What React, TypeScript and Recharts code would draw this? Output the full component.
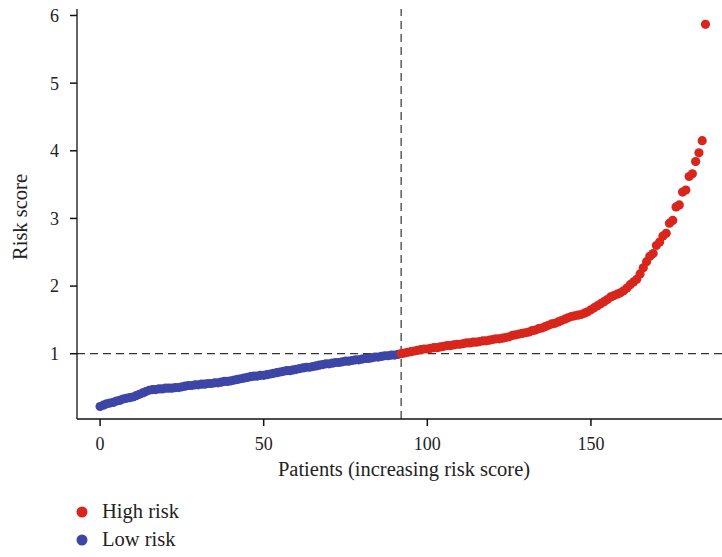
import { ScatterChart, Scatter, XAxis, YAxis, ReferenceLine } from "recharts";

// risk scores, sorted
const lowRisk = [
  0.22, 0.24, 0.26, 0.27, 0.28, 0.3, 0.31, 0.33, 0.34, 0.35, 0.36, 0.38, 0.4,
  0.42, 0.44, 0.46, 0.47, 0.47, 0.48, 0.48, 0.49, 0.49, 0.49, 0.5, 0.5, 0.51,
  0.52, 0.53, 0.53, 0.54, 0.54, 0.55, 0.55, 0.56, 0.56, 0.57, 0.57, 0.58, 0.59,
  0.59, 0.6, 0.61, 0.62, 0.63, 0.64, 0.65, 0.66, 0.67, 0.67, 0.68, 0.68, 0.69,
  0.7, 0.71, 0.72, 0.73, 0.74, 0.75, 0.75, 0.76, 0.77, 0.78, 0.79, 0.8, 0.8,
  0.81, 0.82, 0.83, 0.84, 0.85, 0.85, 0.86, 0.87, 0.87, 0.88, 0.89, 0.89, 0.9,
  0.91, 0.91, 0.92, 0.93, 0.93, 0.94, 0.95, 0.95, 0.96, 0.97, 0.97, 0.98, 0.98,
  0.99,
];

const highRisk = [
  1.0, 1.01, 1.02, 1.03, 1.04, 1.05, 1.06, 1.07, 1.07, 1.08, 1.09, 1.09, 1.1,
  1.11, 1.12, 1.12, 1.13, 1.14, 1.14, 1.15, 1.16, 1.16, 1.17, 1.17, 1.18, 1.19,
  1.19, 1.2, 1.21, 1.22, 1.22, 1.23, 1.24, 1.25, 1.27, 1.28, 1.29, 1.3, 1.31,
  1.32, 1.34, 1.35, 1.37, 1.38, 1.4, 1.42, 1.44, 1.45, 1.47, 1.49, 1.51, 1.53,
  1.55, 1.56, 1.57, 1.58, 1.6, 1.62, 1.65, 1.68, 1.71, 1.74, 1.77, 1.8, 1.84,
  1.86, 1.88, 1.9, 1.93, 1.97, 2.02, 2.06, 2.1, 2.18, 2.27, 2.36, 2.44, 2.48,
  2.6, 2.65, 2.74, 2.78, 2.93, 2.97, 3.17, 3.2, 3.39, 3.42, 3.62, 3.66, 3.84,
  3.97, 4.15, 5.87,
];

const xTicks = [0, 50, 100, 150];
const yTicks = [1, 2, 3, 4, 5, 6];
const cutoffIndex = 92;
const cutoffScore = 1;

const RED = "#d8261d";
const BLUE = "#3d45a6";
const FONT = "'Liberation Serif', 'DejaVu Serif', serif";

const lowData = lowRisk.map((v, i) => ({ x: i, y: v }));
const highData = highRisk.map((v, i) => ({ x: i + lowRisk.length, y: v }));

function Dot(props: any) {
  return <circle cx={props.cx} cy={props.cy} r={4.6} fill={props.fill} />;
}

export default function App() {
  const tick = { fontSize: 18, fill: "#222", fontFamily: FONT };
  return (
    <div
      style={{
        position: "fixed",
        left: 0,
        top: 0,
        width: 722,
        height: 557,
        overflow: "hidden",
        background: "#fff",
      }}
    >
      <ScatterChart
        width={731}
        height={557}
        margin={{ top: 9, right: 0, bottom: 108, left: 0 }}
      >
        <XAxis
          type="number"
          dataKey="x"
          domain={[-7.05, 192.8]}
          ticks={xTicks}
          allowDataOverflow
          height={30}
          tick={tick}
          tickSize={7}
          tickMargin={11}
          axisLine={{ stroke: "#111", strokeWidth: 1.3 }}
          tickLine={{ stroke: "#111", strokeWidth: 1.5 }}
        />
        <XAxis
          xAxisId="top"
          orientation="top"
          type="number"
          domain={[-7.05, 192.8]}
          height={0}
          tick={false}
          tickLine={false}
          axisLine={{ stroke: "#555", strokeWidth: 1.3 }}
        />
        <YAxis
          type="number"
          dataKey="y"
          domain={[0.035, 6.096]}
          ticks={yTicks}
          allowDataOverflow
          width={77}
          tick={tick}
          tickSize={7}
          tickMargin={11}
          axisLine={{ stroke: "#111", strokeWidth: 1.3 }}
          tickLine={{ stroke: "#111", strokeWidth: 1.5 }}
        />
        <ReferenceLine
          y={cutoffScore}
          stroke="#333"
          strokeWidth={1.2}
          strokeDasharray="8 5"
        />
        <ReferenceLine
          x={cutoffIndex}
          stroke="#333"
          strokeWidth={1.2}
          strokeDasharray="8 5"
        />
        <Scatter
          name="Low risk"
          data={lowData}
          fill={BLUE}
          shape={Dot}
          isAnimationActive={false}
        />
        <Scatter
          name="High risk"
          data={highData}
          fill={RED}
          shape={Dot}
          isAnimationActive={false}
        />
      </ScatterChart>
      <svg
        width={722}
        height={557}
        style={{ position: "absolute", left: 0, top: 0, pointerEvents: "none" }}
      >
        <text
          x={404}
          y={476}
          textAnchor="middle"
          fontSize={20.5}
          fontFamily={FONT}
          fill="#222"
        >
          Patients (increasing risk score)
        </text>
        <text
          transform="translate(27,217) rotate(-90)"
          textAnchor="middle"
          fontSize={20.5}
          fontFamily={FONT}
          fill="#222"
        >
          Risk score
        </text>
        <circle cx={82} cy={512} r={5.5} fill={RED} />
        <text x={102} y={518} fontSize={20.5} fontFamily={FONT} fill="#222">
          High risk
        </text>
        <circle cx={82} cy={540} r={5.5} fill={BLUE} />
        <text x={102} y={546} fontSize={20.5} fontFamily={FONT} fill="#222">
          Low risk
        </text>
      </svg>
    </div>
  );
}
